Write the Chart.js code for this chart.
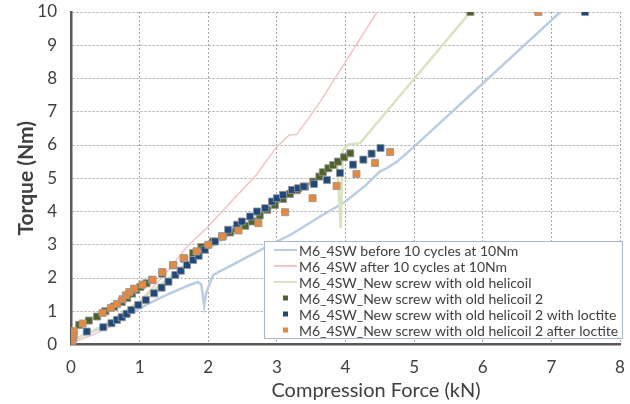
<!DOCTYPE html>
<html>
<head>
<meta charset="utf-8">
<script src="https://cdn.jsdelivr.net/npm/chart.js@4"></script>
<style>
  html, body { margin: 0; padding: 0; background: #fff; }
  #wrap { width: 630px; height: 404px; }
</style>
</head>
<body>
<div id="wrap"><canvas id="chart" width="630" height="404"></canvas></div>
<script>
const xTicks = [0, 1, 2, 3, 4, 5, 6, 7, 8];
const yTicks = [0, 1, 2, 3, 4, 5, 6, 7, 8, 9, 10];
const xTitle = 'Compression Force (kN)';
const yTitle = 'Torque (Nm)';

const seriesNames = [
  'M6_4SW before 10 cycles at 10Nm',
  'M6_4SW after 10 cycles at 10Nm',
  'M6_4SW_New screw with old helicoil',
  'M6_4SW_New screw with old helicoil 2',
  'M6_4SW_New screw with old helicoil 2 with loctite',
  'M6_4SW_New screw with old helicoil 2 after loctite',
];

// lines
const beforeForce = [0, 0.2, 0.5, 0.8, 1.1, 1.4, 1.69, 1.85, 1.9, 1.94, 1.97, 2.07, 2.4, 2.86, 3.2, 3.63, 4.0, 4.3, 4.5, 4.6, 4.75, 5.0, 5.5, 6.0, 6.5, 7.13];
const beforeTorque = [0.1, 0.3, 0.55, 0.85, 1.2, 1.5, 1.76, 1.88, 1.8, 1.16, 1.55, 2.09, 2.45, 2.95, 3.3, 3.85, 4.3, 4.8, 5.2, 5.3, 5.5, 5.95, 6.9, 7.85, 8.8, 10];

const afterForce = [0, 0.3, 0.63, 1.0, 1.36, 1.69, 2.0, 2.36, 2.7, 3.0, 3.18, 3.29, 3.6, 4.0, 4.46];
const afterTorque = [0.05, 0.28, 0.59, 1.3, 2.09, 2.94, 3.55, 4.35, 5.1, 5.95, 6.3, 6.32, 7.2, 8.5, 10];

const helicoilForce = [0, 0.5, 1.0, 1.73, 2.5, 3.43, 3.88, 3.93, 3.96, 4.05, 4.21, 5.82];
const helicoilTorque = [0.1, 0.6, 1.3, 2.5, 3.55, 4.8, 5.4, 3.5, 5.85, 6.02, 6.05, 10];

// points
const helicoil2Force = [0.02, 0.03, 0.12, 0.26, 0.38, 0.5, 0.63, 0.74, 0.82, 0.89, 0.95, 1.01, 1.1, 1.18, 1.33, 1.49, 1.65, 1.78, 1.9, 2.07, 2.21, 2.32, 2.41, 2.54, 2.64, 2.75, 2.86, 2.97, 3.09, 3.19, 3.29, 3.41, 3.53, 3.62, 3.67, 3.75, 3.82, 3.89, 3.98, 4.07, 5.82];
const helicoil2Torque = [0.25, 0.38, 0.59, 0.72, 0.84, 1.0, 1.14, 1.28, 1.4, 1.53, 1.64, 1.73, 1.84, 1.94, 2.13, 2.38, 2.58, 2.75, 2.93, 3.1, 3.25, 3.37, 3.48, 3.57, 3.7, 3.88, 4.05, 4.2, 4.38, 4.53, 4.64, 4.75, 4.9, 5.05, 5.18, 5.3, 5.4, 5.5, 5.63, 5.75, 10];

const withLoctiteForce = [0.0, 0.02, 0.03, 0.23, 0.47, 0.59, 0.67, 0.74, 0.81, 0.88, 0.98, 1.09, 1.21, 1.32, 1.42, 1.52, 1.6, 1.69, 1.78, 1.86, 1.95, 2.1, 2.2, 2.29, 2.42, 2.49, 2.61, 2.71, 2.83, 2.93, 3.0, 3.09, 3.22, 3.31, 3.39, 3.54, 3.73, 3.92, 4.11, 4.26, 4.38, 4.51, 7.49];
const withLoctiteTorque = [0.0, 0.1, 0.25, 0.39, 0.52, 0.64, 0.74, 0.82, 0.92, 1.04, 1.19, 1.34, 1.54, 1.71, 1.89, 2.09, 2.22, 2.39, 2.54, 2.67, 2.85, 3.1, 3.25, 3.45, 3.6, 3.7, 3.85, 4.0, 4.1, 4.3, 4.4, 4.5, 4.65, 4.7, 4.75, 4.83, 4.95, 5.16, 5.41, 5.56, 5.74, 5.91, 10];

const afterLoctiteForce = [0.01, 0.02, 0.03, 0.04, 0.04, 0.17, 0.46, 0.58, 0.67, 0.75, 0.8, 0.85, 0.92, 1.04, 1.19, 1.33, 1.49, 1.64, 1.83, 2.0, 2.2, 2.44, 2.73, 3.12, 3.52, 3.87, 4.16, 4.43, 4.65, 6.81];
const afterLoctiteTorque = [0.02, 0.1, 0.2, 0.3, 0.4, 0.63, 0.95, 1.1, 1.22, 1.36, 1.48, 1.58, 1.68, 1.8, 1.95, 2.18, 2.39, 2.6, 2.8, 3.0, 3.25, 3.43, 3.65, 3.98, 4.4, 4.77, 5.13, 5.46, 5.79, 10];

const lineColors = ['#b9cde5', '#f2c4c4', '#d7e4bd'];
const pointColors = ['#4f6228', '#1f497d', '#e9883a'];

function toPoints(xs, ys) {
  return xs.map((x, i) => ({ x: x, y: ys[i] }));
}

const FONT = 'Lato, "Open Sans", sans-serif';

// legend box sits inside the plot, bottom right, like the Excel original
const boxLegendPlugin = {
  id: 'boxLegend',
  afterDatasetsDraw(chart) {
    const ctx = chart.ctx;
    const left = 264;
    const top = 241;
    const width = 358;
    const height = 97;
    const rowH = 16;
    ctx.save();
    ctx.fillStyle = '#ffffff';
    ctx.fillRect(left, top, width, height);
    ctx.strokeStyle = '#a9b7c9';
    ctx.lineWidth = 1;
    ctx.strokeRect(left + 0.5, top + 0.5, width, height);
    ctx.font = '14px ' + FONT;
    ctx.textBaseline = 'middle';
    ctx.textAlign = 'left';
    chart.data.datasets.slice().sort((a, b) => a.legendIndex - b.legendIndex).forEach((ds, i) => {
      const y = top + 9 + i * rowH;
      if (ds.showLine) {
        ctx.strokeStyle = ds.borderColor;
        ctx.lineWidth = 2;
        ctx.beginPath();
        ctx.moveTo(274, y);
        ctx.lineTo(297, y);
        ctx.stroke();
      } else {
        ctx.fillStyle = ds.backgroundColor;
        ctx.fillRect(283, y - 2.5, 5, 5);
      }
      ctx.fillStyle = '#404040';
      ctx.fillText(ds.label, 299, y + 1);
    });
    ctx.restore();
  },
};

// x title is off-centre in the original, so draw it by hand
const xTitlePlugin = {
  id: 'xTitle',
  afterDraw(chart) {
    const ctx = chart.ctx;
    ctx.save();
    ctx.font = '20px ' + FONT;
    ctx.fillStyle = '#404040';
    ctx.textAlign = 'center';
    ctx.textBaseline = 'middle';
    ctx.fillText(xTitle, 376, 391);
    ctx.restore();
  },
};

function lineSet(idx, xs, ys, width) {
  return {
    label: seriesNames[idx],
    legendIndex: idx,
    data: toPoints(xs, ys),
    showLine: true,
    borderColor: lineColors[idx],
    backgroundColor: lineColors[idx],
    borderWidth: width,
    pointRadius: 0,
    tension: 0,
    order: 10 - idx,
  };
}

function pointSet(idx, xs, ys) {
  return {
    label: seriesNames[idx],
    legendIndex: idx,
    data: toPoints(xs, ys),
    showLine: false,
    pointStyle: 'rect',
    pointRadius: 5,
    backgroundColor: pointColors[idx - 3],
    borderColor: 'rgba(150,150,150,0.85)',
    borderWidth: 1,
    order: 10 - idx,
  };
}

new Chart(document.getElementById('chart'), {
  type: 'scatter',
  data: {
    datasets: [
      lineSet(0, beforeForce, beforeTorque, 2.5),
      lineSet(1, afterForce, afterTorque, 1.5),
      lineSet(2, helicoilForce, helicoilTorque, 2.5),
      pointSet(3, helicoil2Force, helicoil2Torque),
      pointSet(4, withLoctiteForce, withLoctiteTorque),
      pointSet(5, afterLoctiteForce, afterLoctiteTorque),
    ],
  },
  options: {
    responsive: false,
    animation: false,
    layout: { padding: 0 },
    plugins: {
      legend: { display: false },
      tooltip: { enabled: false },
    },
    scales: {
      x: {
        type: 'linear',
        min: 0,
        max: 8,
        afterBuildTicks(scale) {
          scale.ticks = xTicks.map((v) => ({ value: v }));
        },
        afterFit(scale) {
          scale.height = 59.5;
          scale.paddingRight = 10;
        },
        grid: { color: '#a6a6a6', lineWidth: 1, drawTicks: false },
        border: { display: true, color: '#595959', width: 2.5, dash: [2, 2] },
        ticks: { padding: 13, color: '#404040', font: { family: FONT, size: 17 } },
        title: { display: false },
      },
      y: {
        type: 'linear',
        min: 0,
        max: 10,
        afterBuildTicks(scale) {
          scale.ticks = yTicks.map((v) => ({ value: v }));
        },
        afterFit(scale) {
          scale.width = 71;
          scale.paddingTop = 12;
        },
        grid: { color: '#a6a6a6', lineWidth: 1, drawTicks: false },
        border: { display: true, color: '#595959', width: 2.5, dash: [2, 2] },
        ticks: { padding: 14, color: '#404040', font: { family: FONT, size: 17 } },
        title: {
          display: true,
          text: yTitle,
          color: '#404040',
          font: { family: FONT, size: 21, weight: 'bold' },
          padding: { top: 14, bottom: 0 },
        },
      },
    },
  },
  plugins: [boxLegendPlugin, xTitlePlugin],
});
</script>
</body>
</html>
